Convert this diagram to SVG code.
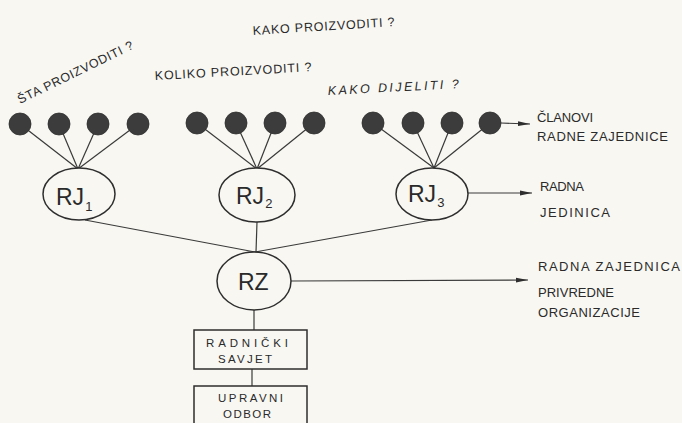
<svg xmlns="http://www.w3.org/2000/svg" width="682" height="423" viewBox="0 0 682 423">
<defs>
<style>
.bg{fill:#f8f7f2}
.ln{stroke:#3a3a3a;stroke-width:1.2;fill:none}
.nd{stroke:#2e2e2e;stroke-width:1.5;fill:#f8f7f2}
.dot{fill:#3c3c3c;stroke:#2e2e2e;stroke-width:0.8}
.t{font-family:"Liberation Sans",Arial,sans-serif;fill:#2a2a2a;font-size:12.5px}
.lab{font-family:"Liberation Sans",Arial,sans-serif;fill:#2a2a2a;font-size:13px}
.big{font-family:"Liberation Sans",Arial,sans-serif;fill:#2a2a2a;font-size:23px}
.sub{font-size:13px}
.bx{font-family:"Liberation Sans",Arial,sans-serif;fill:#2a2a2a;font-size:11.5px}
</style>
<marker id="ah" viewBox="0 0 12 6" refX="12" refY="3" markerWidth="12" markerHeight="6" markerUnits="userSpaceOnUse" orient="auto">
<path d="M0,0.6 L12,3 L0,5.4 Z" fill="#2e2e2e"/>
</marker>
</defs>
<rect class="bg" x="0" y="0" width="682" height="423"/>

<g id="questions">
<text class="t" transform="translate(20,104) rotate(-26)" textLength="127" lengthAdjust="spacing">ŠTA PROIZVODITI ?</text>
<text class="t" transform="translate(253,35) rotate(-3.6)" textLength="142" lengthAdjust="spacing">KAKO PROIZVODITI ?</text>
<text class="t" transform="translate(155,80) rotate(-3.2)" textLength="157" lengthAdjust="spacing">KOLIKO PROIZVODITI ?</text>
<text class="t" font-style="italic" transform="translate(328,95) rotate(-3)" textLength="131" lengthAdjust="spacing">KAKO DIJELITI ?</text>
</g>

<g id="connectors">
<line class="ln" x1="20" y1="124" x2="78" y2="169"/>
<line class="ln" x1="59" y1="124" x2="78" y2="169"/>
<line class="ln" x1="98" y1="124" x2="78" y2="169"/>
<line class="ln" x1="138" y1="124" x2="78" y2="169"/>
<line class="ln" x1="197" y1="123" x2="257" y2="169"/>
<line class="ln" x1="236" y1="123" x2="257" y2="169"/>
<line class="ln" x1="275" y1="123" x2="257" y2="169"/>
<line class="ln" x1="314" y1="123" x2="257" y2="169"/>
<line class="ln" x1="373" y1="123" x2="434" y2="168"/>
<line class="ln" x1="413" y1="123" x2="434" y2="168"/>
<line class="ln" x1="452" y1="123" x2="434" y2="168"/>
<line class="ln" x1="490" y1="123" x2="434" y2="168"/>
<line class="ln" x1="85" y1="220" x2="255" y2="252"/>
<line class="ln" x1="257" y1="222" x2="256" y2="252"/>
<line class="ln" x1="432" y1="220" x2="255" y2="252"/>
<line class="ln" x1="254" y1="310" x2="254" y2="330"/>
<line class="ln" x1="252" y1="369" x2="252" y2="386"/>
<line class="ln" x1="501" y1="123" x2="530" y2="124" marker-end="url(#ah)"/>
<line class="ln" x1="468" y1="193" x2="532" y2="193" marker-end="url(#ah)"/>
<line class="ln" x1="291" y1="281" x2="528" y2="280" marker-end="url(#ah)"/>
</g>

<g id="members">
<circle class="dot" cx="20" cy="124" r="11"/>
<circle class="dot" cx="59" cy="124" r="11"/>
<circle class="dot" cx="98" cy="124" r="11"/>
<circle class="dot" cx="138" cy="124" r="11"/>
<circle class="dot" cx="197" cy="123" r="11"/>
<circle class="dot" cx="236" cy="123" r="11"/>
<circle class="dot" cx="275" cy="123" r="11"/>
<circle class="dot" cx="314" cy="123" r="11"/>
<circle class="dot" cx="373" cy="123" r="11"/>
<circle class="dot" cx="413" cy="123" r="11"/>
<circle class="dot" cx="452" cy="123" r="11"/>
<circle class="dot" cx="490" cy="123" r="11"/>
</g>

<g id="rj1">
<ellipse class="nd" cx="79" cy="194" rx="36" ry="26"/>
<text class="big" x="56" y="205">RJ<tspan class="sub" dx="1" dy="6">1</tspan></text>
</g>
<g id="rj2">
<ellipse class="nd" cx="257" cy="195" rx="38" ry="27"/>
<text class="big" x="236" y="204">RJ<tspan class="sub" dx="1" dy="4">2</tspan></text>
</g>
<g id="rj3">
<ellipse class="nd" cx="432" cy="194" rx="36" ry="26"/>
<text class="big" x="408" y="202">RJ<tspan class="sub" dx="1" dy="5">3</tspan></text>
</g>
<g id="rz">
<ellipse class="nd" cx="254" cy="281" rx="37" ry="29"/>
<text class="big" x="238" y="290">RZ</text>
</g>

<g id="radnicki-savjet">
<rect class="nd" x="194" y="330" width="113" height="39"/>
<text class="bx" x="206" y="347" textLength="82" lengthAdjust="spacing">RADNIČKI</text>
<text class="bx" x="218" y="363" textLength="54" lengthAdjust="spacing">SAVJET</text>
</g>
<g id="upravni-odbor">
<rect class="nd" x="194" y="386" width="113" height="45"/>
<text class="bx" x="218" y="402" textLength="65" lengthAdjust="spacing">UPRAVNI</text>
<text class="bx" x="223" y="418" textLength="48" lengthAdjust="spacing">ODBOR</text>
</g>

<g id="labels">
<text class="lab" x="537" y="122" textLength="56" lengthAdjust="spacing">ČLANOVI</text>
<text class="lab" x="537" y="141" textLength="131" lengthAdjust="spacing">RADNE ZAJEDNICE</text>
<text class="lab" x="540" y="191" textLength="44" lengthAdjust="spacing">RADNA</text>
<text class="lab" x="540" y="217" textLength="70" lengthAdjust="spacing">JEDINICA</text>
<text class="lab" x="538" y="271" textLength="142" lengthAdjust="spacing">RADNA ZAJEDNICA</text>
<text class="lab" x="538" y="297" textLength="76" lengthAdjust="spacing">PRIVREDNE</text>
<text class="lab" x="538" y="317" textLength="102" lengthAdjust="spacing">ORGANIZACIJE</text>
</g>
</svg>
